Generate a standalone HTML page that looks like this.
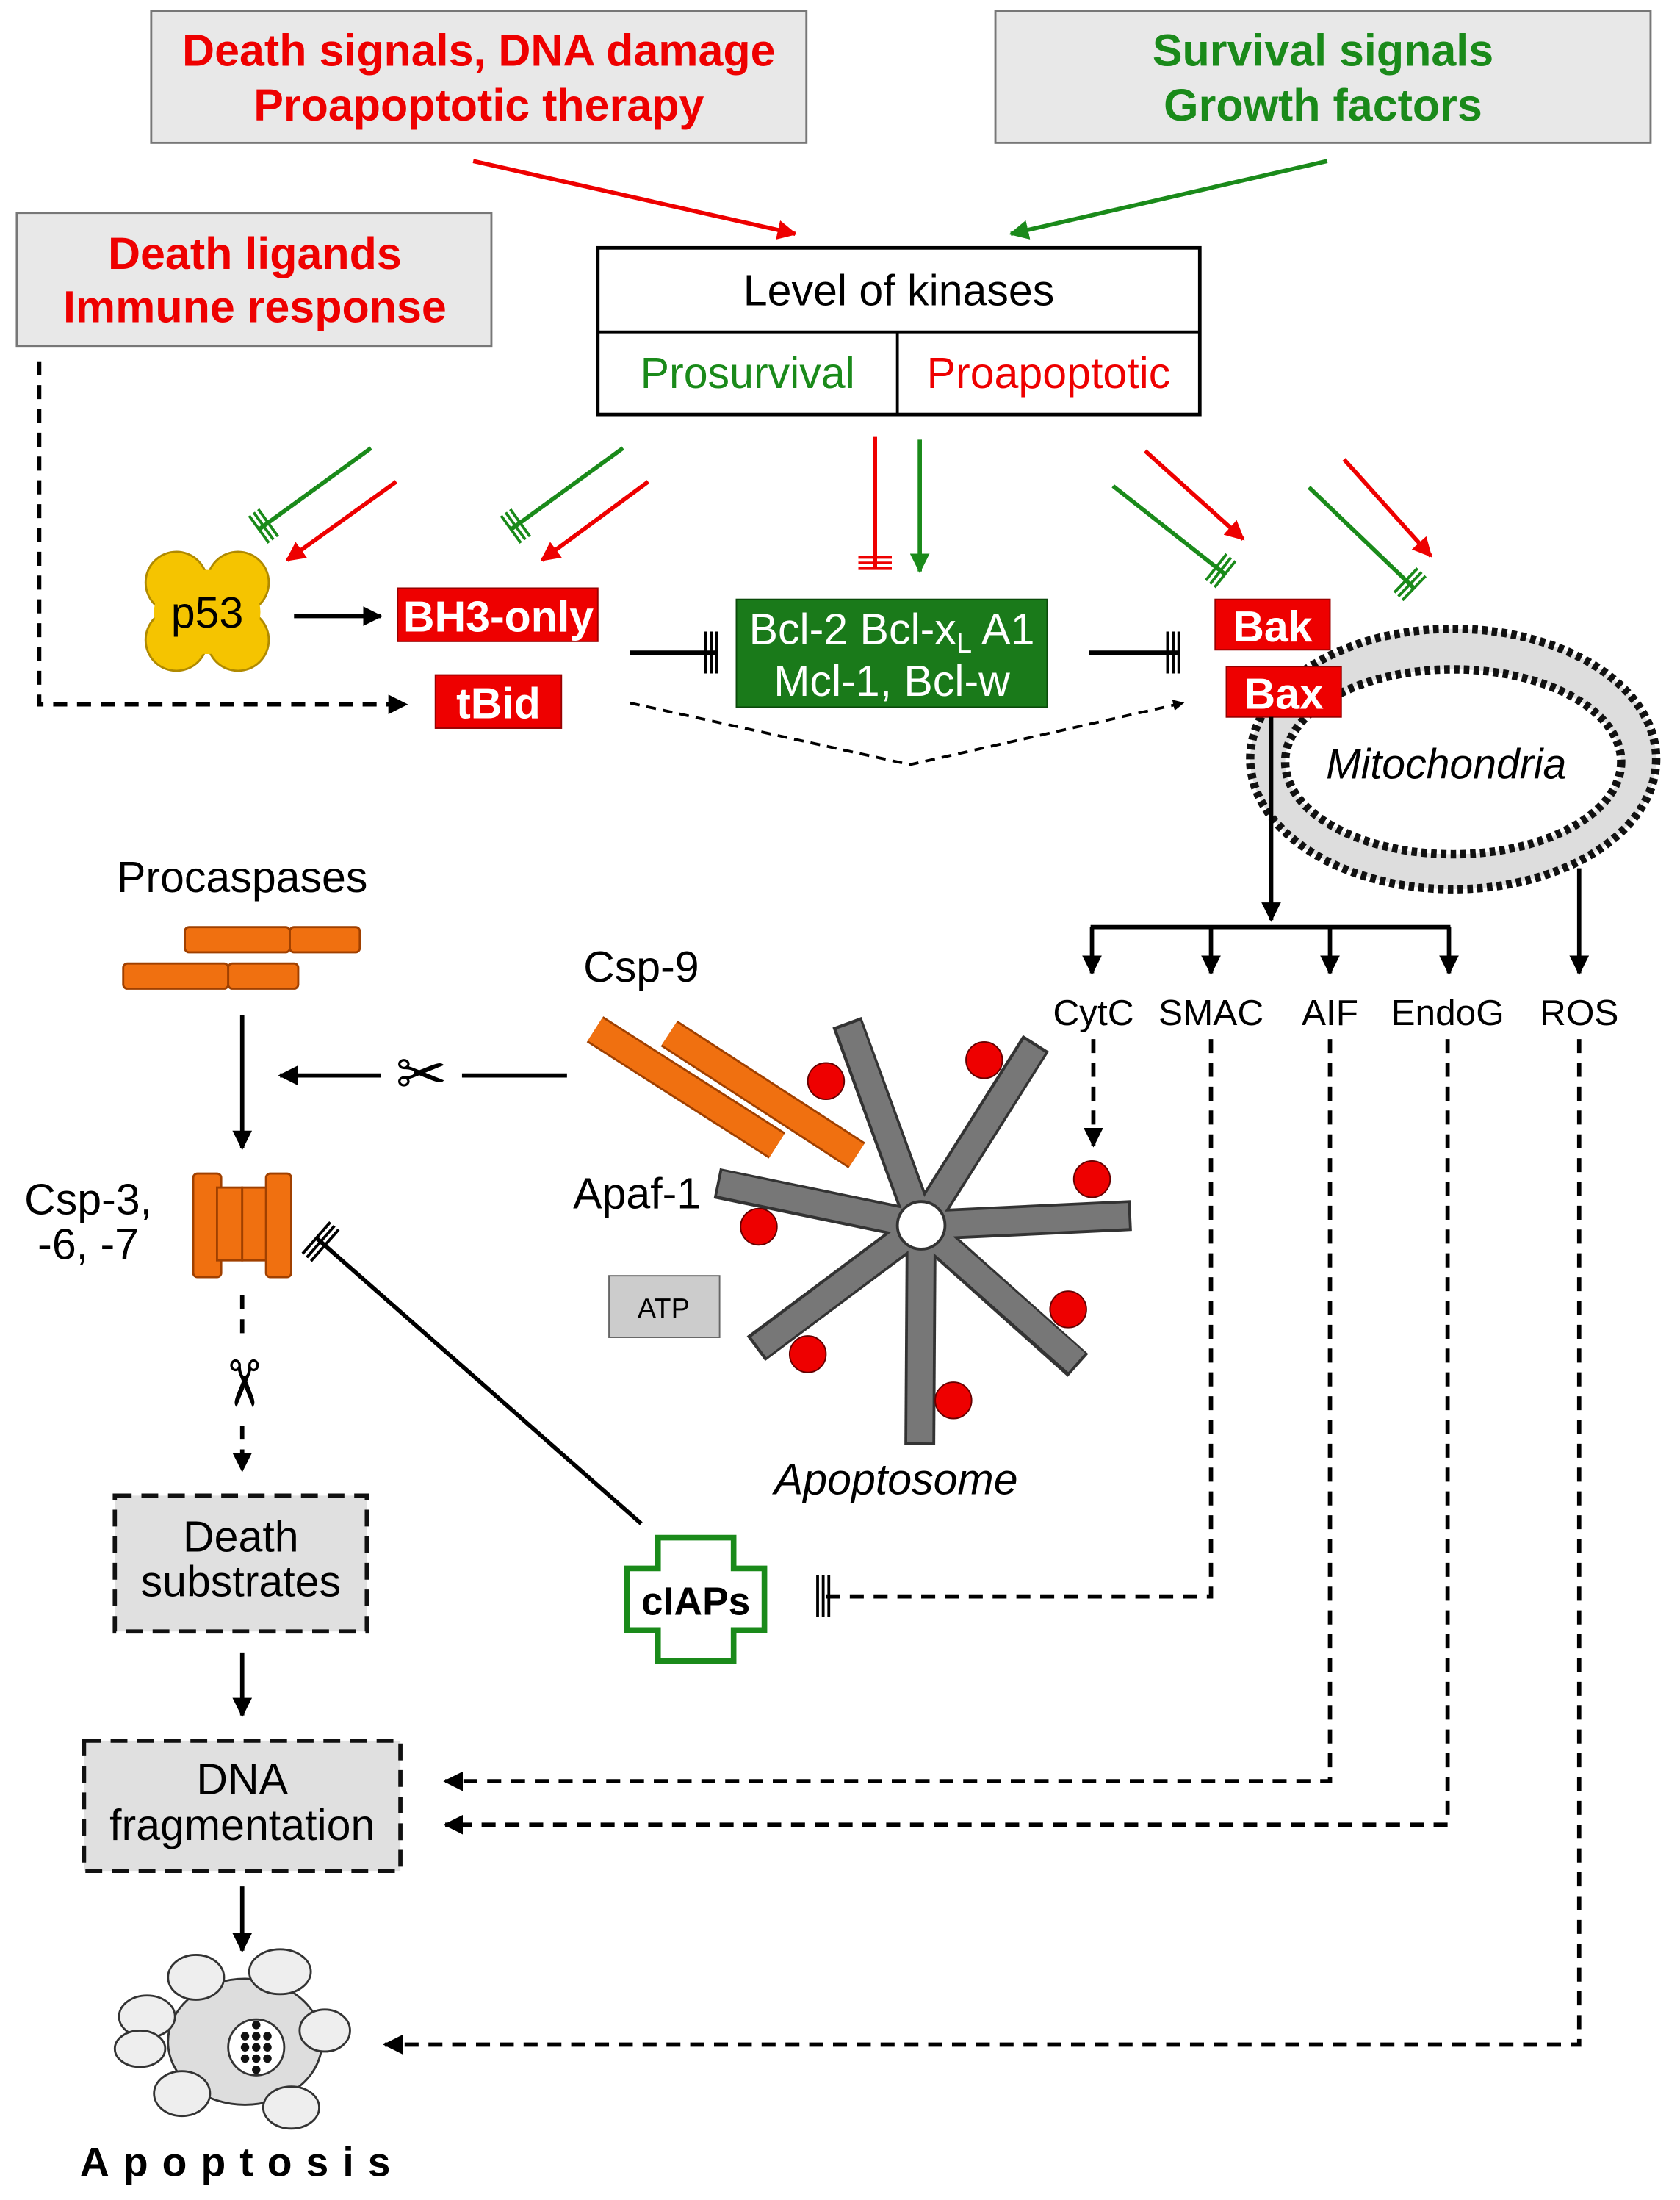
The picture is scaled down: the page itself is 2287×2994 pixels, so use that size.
<!DOCTYPE html>
<html><head><meta charset="utf-8"><style>html,body{margin:0;padding:0;background:#fff}svg{display:block}text{font-family:"Liberation Sans",Arial,sans-serif}</style></head><body>
<svg width="2287" height="2994" viewBox="0 0 1200 1571" xmlns="http://www.w3.org/2000/svg">
<defs>
<marker id="ak" markerWidth="8" markerHeight="8" refX="7" refY="4" orient="auto" markerUnits="userSpaceOnUse"><path d="M0,0 L8,4 L0,8z" fill="#000"/></marker>
<marker id="ab" viewBox="0 0 10 10" markerWidth="14" markerHeight="14" refX="9" refY="5" orient="auto" markerUnits="userSpaceOnUse"><path d="M0,0 L10,5 L0,10z" fill="#000"/></marker>
<marker id="ar" viewBox="0 0 10 10" markerWidth="14" markerHeight="14" refX="9" refY="5" orient="auto" markerUnits="userSpaceOnUse"><path d="M0,0 L10,5 L0,10z" fill="#e00"/></marker>
<marker id="ag" viewBox="0 0 10 10" markerWidth="14" markerHeight="14" refX="9" refY="5" orient="auto" markerUnits="userSpaceOnUse"><path d="M0,0 L10,5 L0,10z" fill="#1a8a1a"/></marker>
<marker id="tg" viewBox="0 0 12 24" markerWidth="12" markerHeight="24" refX="10" refY="12" orient="auto" markerUnits="userSpaceOnUse"><path d="M2,0 V24 M6,0 V24 M10,0 V24" stroke="#1a8a1a" stroke-width="2"/></marker>
<marker id="tr" viewBox="0 0 12 24" markerWidth="12" markerHeight="24" refX="10" refY="12" orient="auto" markerUnits="userSpaceOnUse"><path d="M2,0 V24 M6,0 V24 M10,0 V24" stroke="#e00" stroke-width="2"/></marker>
<marker id="tk" viewBox="0 0 12 30" markerWidth="12" markerHeight="30" refX="10" refY="15" orient="auto" markerUnits="userSpaceOnUse"><path d="M2,0 V30 M6,0 V30 M10,0 V30" stroke="#000" stroke-width="2"/></marker>
</defs>
<rect x="108" y="8" width="468" height="94" fill="#e8e8e8" stroke="#777" stroke-width="1.5"/>
<text x="342" y="47" font-size="32" font-weight="bold" fill="#e00" text-anchor="middle">Death signals, DNA damage</text>
<text x="342" y="86" font-size="32" font-weight="bold" fill="#e00" text-anchor="middle">Proapoptotic therapy</text>
<rect x="711" y="8" width="468" height="94" fill="#e8e8e8" stroke="#777" stroke-width="1.5"/>
<text x="945" y="47" font-size="32" font-weight="bold" fill="#1a8a1a" text-anchor="middle">Survival signals</text>
<text x="945" y="86" font-size="32" font-weight="bold" fill="#1a8a1a" text-anchor="middle">Growth factors</text>
<rect x="12" y="152" width="339" height="95" fill="#e8e8e8" stroke="#777" stroke-width="1.5"/>
<text x="182" y="192" font-size="32" font-weight="bold" fill="#e00" text-anchor="middle">Death ligands</text>
<text x="182" y="230" font-size="32" font-weight="bold" fill="#e00" text-anchor="middle">Immune response</text>
<line x1="338" y1="115" x2="568" y2="167" stroke="#e00" stroke-width="3" marker-end="url(#ar)"/>
<line x1="948" y1="115" x2="722" y2="167" stroke="#1a8a1a" stroke-width="3" marker-end="url(#ag)"/>
<rect x="427" y="177" width="430" height="119" fill="#fff" stroke="#000" stroke-width="2.5"/>
<line x1="427" y1="237" x2="857" y2="237" stroke="#000" stroke-width="2"/>
<line x1="641" y1="237" x2="641" y2="296" stroke="#000" stroke-width="2"/>
<text x="642" y="218" font-size="31" text-anchor="middle">Level of kinases</text>
<text x="534" y="277" font-size="31" fill="#1a8a1a" text-anchor="middle">Prosurvival</text>
<text x="749" y="277" font-size="31" fill="#e00" text-anchor="middle">Proapoptotic</text>
<line x1="265" y1="320" x2="185" y2="378" stroke="#1a8a1a" stroke-width="3" marker-end="url(#tg)"/>
<line x1="283" y1="344" x2="205" y2="400" stroke="#e00" stroke-width="3" marker-end="url(#ar)"/>
<line x1="445" y1="320" x2="365" y2="378" stroke="#1a8a1a" stroke-width="3" marker-end="url(#tg)"/>
<line x1="463" y1="344" x2="387" y2="400" stroke="#e00" stroke-width="3" marker-end="url(#ar)"/>
<line x1="625" y1="312" x2="625" y2="406" stroke="#e00" stroke-width="3" marker-end="url(#tr)"/>
<line x1="657" y1="314" x2="657" y2="408" stroke="#1a8a1a" stroke-width="3" marker-end="url(#ag)"/>
<line x1="795" y1="347" x2="875" y2="410" stroke="#1a8a1a" stroke-width="3" marker-end="url(#tg)"/>
<line x1="818" y1="322" x2="888" y2="385" stroke="#e00" stroke-width="3" marker-end="url(#ar)"/>
<line x1="935" y1="348" x2="1010" y2="420" stroke="#1a8a1a" stroke-width="3" marker-end="url(#tg)"/>
<line x1="960" y1="328" x2="1022" y2="397" stroke="#e00" stroke-width="3" marker-end="url(#ar)"/>
<g fill="#f5c400" stroke="#b08a00" stroke-width="1.5">
<circle cx="126" cy="416" r="22"/><circle cx="170" cy="416" r="22"/><circle cx="126" cy="457" r="22"/><circle cx="170" cy="457" r="22"/>
<ellipse cx="148" cy="437" rx="38" ry="30" stroke="none"/></g>
<text x="148" y="448" font-size="31" text-anchor="middle">p53</text>
<line x1="210" y1="440" x2="272" y2="440" stroke="#000" stroke-width="3" marker-end="url(#ab)"/>
<rect x="284" y="420" width="143" height="38" fill="#e00" stroke="#900"/>
<text x="356" y="451" font-size="31" font-weight="bold" fill="#fff" text-anchor="middle">BH3-only</text>
<rect x="311" y="482" width="90" height="38" fill="#e00" stroke="#900"/>
<text x="356" y="513" font-size="31" font-weight="bold" fill="#fff" text-anchor="middle">tBid</text>
<polyline points="28,258 28,503 290,503" fill="none" stroke="#000" stroke-width="3" stroke-dasharray="10,7" marker-end="url(#ab)"/>
<line x1="450" y1="466" x2="512" y2="466" stroke="#000" stroke-width="3" marker-end="url(#tk)"/>
<rect x="526" y="428" width="222" height="77" fill="#1a7a1a" stroke="#0a4a0a"/>
<text x="637" y="460" font-size="31" fill="#fff" text-anchor="middle">Bcl-2 Bcl-x<tspan font-size="20" dy="6">L</tspan><tspan dy="-6"> A1</tspan></text>
<text x="637" y="497" font-size="31" fill="#fff" text-anchor="middle">Mcl-1, Bcl-w</text>
<line x1="778" y1="466" x2="842" y2="466" stroke="#000" stroke-width="3" marker-end="url(#tk)"/>
<polyline points="450,502 650,546 845,502" fill="none" stroke="#000" stroke-width="2" stroke-dasharray="7,5" marker-end="url(#ak)"/>
<ellipse cx="1038" cy="542" rx="145" ry="93" fill="#ddd"/>
<ellipse cx="1038" cy="542" rx="145" ry="93" fill="none" stroke="#111" stroke-width="6" stroke-dasharray="4,3"/>
<ellipse cx="1038" cy="544" rx="120" ry="66" fill="#fff" stroke="#111" stroke-width="6" stroke-dasharray="4,3"/>
<text x="1033" y="556" font-size="30" font-style="italic" text-anchor="middle">Mitochondria</text>
<rect x="868" y="428" width="82" height="36" fill="#e00" stroke="#900"/>
<text x="909" y="458" font-size="31" font-weight="bold" fill="#fff" text-anchor="middle">Bak</text>
<rect x="876" y="476" width="82" height="36" fill="#e00" stroke="#900"/>
<text x="917" y="506" font-size="31" font-weight="bold" fill="#fff" text-anchor="middle">Bax</text>
<line x1="908" y1="512" x2="908" y2="657" stroke="#000" stroke-width="3" marker-end="url(#ab)"/>
<line x1="779" y1="662" x2="1036" y2="662" stroke="#000" stroke-width="3"/>
<g stroke="#000" stroke-width="3">
<line x1="780" y1="662" x2="780" y2="695" marker-end="url(#ab)"/><line x1="865" y1="662" x2="865" y2="695" marker-end="url(#ab)"/>
<line x1="950" y1="662" x2="950" y2="695" marker-end="url(#ab)"/><line x1="1035" y1="662" x2="1035" y2="695" marker-end="url(#ab)"/>
<line x1="1128" y1="620" x2="1128" y2="695" marker-end="url(#ab)"/></g>
<g font-size="26" text-anchor="middle"><text x="781" y="732">CytC</text><text x="865" y="732">SMAC</text><text x="950" y="732">AIF</text><text x="1034" y="732">EndoG</text><text x="1128" y="732">ROS</text></g>
<g fill="none" stroke="#000" stroke-width="3" stroke-dasharray="10,7">
<line x1="781" y1="742" x2="781" y2="818" marker-end="url(#ab)"/>
<polyline points="865,742 865,1140 584,1140" marker-end="url(#tk)"/>
<polyline points="950,742 950,1272 318,1272" marker-end="url(#ab)"/>
<polyline points="1034,742 1034,1303 318,1303" marker-end="url(#ab)"/>
<polyline points="1128,742 1128,1460 275,1460" marker-end="url(#ab)"/>
</g>
<text x="173" y="637" font-size="31" text-anchor="middle">Procaspases</text>
<g fill="#f07010" stroke="#a04000" stroke-width="1.5">
<rect x="132" y="662" width="75" height="18" rx="3"/><rect x="207" y="662" width="50" height="18" rx="3"/>
<rect x="88" y="688" width="75" height="18" rx="3"/><rect x="163" y="688" width="50" height="18" rx="3"/></g>
<line x1="173" y1="725" x2="173" y2="820" stroke="#000" stroke-width="3" marker-end="url(#ab)"/>
<line x1="405" y1="768" x2="200" y2="768" stroke="#000" stroke-width="3" marker-end="url(#ab)"/>
<rect x="272" y="750" width="58" height="36" fill="#fff"/>
<text x="301" y="782" font-size="44" text-anchor="middle">✂</text>
<text x="63" y="867" font-size="31" text-anchor="middle">Csp-3,</text>
<text x="63" y="899" font-size="31" text-anchor="middle">-6, -7</text>
<g fill="#f07010" stroke="#a04000" stroke-width="1.5">
<rect x="138" y="838" width="20" height="74" rx="3"/><rect x="155" y="848" width="18" height="52"/><rect x="173" y="848" width="18" height="52"/><rect x="190" y="838" width="18" height="74" rx="3"/></g>
<line x1="173" y1="925" x2="173" y2="955" stroke="#000" stroke-width="3" stroke-dasharray="10,7"/>
<text x="173" y="1003" font-size="46" text-anchor="middle" transform="rotate(90 173 988)">✂</text>
<line x1="173" y1="1018" x2="173" y2="1050" stroke="#000" stroke-width="3" stroke-dasharray="10,7" marker-end="url(#ab)"/>
<rect x="82" y="1068" width="180" height="97" fill="#e0e0e0" stroke="#111" stroke-width="3" stroke-dasharray="12,7"/>
<text x="172" y="1108" font-size="31" text-anchor="middle">Death</text>
<text x="172" y="1140" font-size="31" text-anchor="middle">substrates</text>
<line x1="173" y1="1180" x2="173" y2="1225" stroke="#000" stroke-width="3" marker-end="url(#ab)"/>
<rect x="60" y="1243" width="226" height="93" fill="#e0e0e0" stroke="#111" stroke-width="3" stroke-dasharray="12,7"/>
<text x="173" y="1281" font-size="31" text-anchor="middle">DNA</text>
<text x="173" y="1314" font-size="31" text-anchor="middle">fragmentation</text>
<line x1="173" y1="1347" x2="173" y2="1393" stroke="#000" stroke-width="3" marker-end="url(#ab)"/>
<g fill="#eee" stroke="#333" stroke-width="1.5">
<ellipse cx="175" cy="1458" rx="55" ry="45" fill="#ddd"/>
<ellipse cx="140" cy="1412" rx="20" ry="16"/><ellipse cx="200" cy="1408" rx="22" ry="16"/><ellipse cx="232" cy="1450" rx="18" ry="15"/>
<ellipse cx="105" cy="1440" rx="20" ry="15"/><ellipse cx="100" cy="1463" rx="18" ry="13"/><ellipse cx="130" cy="1495" rx="20" ry="16"/><ellipse cx="208" cy="1505" rx="20" ry="15"/>
<circle cx="183" cy="1462" r="20" fill="#fff"/></g>
<g fill="#111"><circle cx="175" cy="1454" r="3"/><circle cx="183" cy="1454" r="3"/><circle cx="191" cy="1454" r="3"/><circle cx="175" cy="1462" r="3"/><circle cx="183" cy="1462" r="3"/><circle cx="191" cy="1462" r="3"/><circle cx="175" cy="1470" r="3"/><circle cx="183" cy="1470" r="3"/><circle cx="191" cy="1470" r="3"/><circle cx="183" cy="1446" r="3"/><circle cx="183" cy="1478" r="3"/></g>
<text x="173" y="1554" font-size="29" font-weight="bold" letter-spacing="10" text-anchor="middle">Apoptosis</text>
<line x1="458" y1="1088" x2="226" y2="884" stroke="#000" stroke-width="3" marker-end="url(#tk)"/>
<path d="M470,1098 h54 v22 h22 v44 h-22 v22 h-54 v-22 h-22 v-44 h22z" fill="#fff" stroke="#1a8a1a" stroke-width="4"/>
<text x="497" y="1153" font-size="28" font-weight="bold" text-anchor="middle">cIAPs</text>
<text x="458" y="701" font-size="31" text-anchor="middle">Csp-9</text>
<g stroke-linecap="butt">
<line x1="425" y1="735" x2="555" y2="818" stroke="#a04000" stroke-width="22"/><line x1="425" y1="735" x2="555" y2="818" stroke="#f07010" stroke-width="19"/>
<line x1="478" y1="738" x2="612" y2="825" stroke="#a04000" stroke-width="22"/><line x1="478" y1="738" x2="612" y2="825" stroke="#f07010" stroke-width="19"/>
</g>
<g stroke-linecap="butt">
<g stroke="#333" stroke-width="22"><line x1="658" y1="875" x2="605" y2="730"/><line x1="658" y1="875" x2="740" y2="745"/><line x1="658" y1="875" x2="808" y2="868"/><line x1="658" y1="875" x2="770" y2="975"/><line x1="658" y1="875" x2="657" y2="1032"/><line x1="658" y1="875" x2="540" y2="963"/><line x1="658" y1="875" x2="512" y2="845"/></g>
<g stroke="#777" stroke-width="18"><line x1="658" y1="875" x2="606" y2="732"/><line x1="658" y1="875" x2="739" y2="747"/><line x1="658" y1="875" x2="806" y2="868"/><line x1="658" y1="875" x2="769" y2="973"/><line x1="658" y1="875" x2="657" y2="1030"/><line x1="658" y1="875" x2="542" y2="962"/><line x1="658" y1="875" x2="514" y2="845"/></g>
</g>
<circle cx="658" cy="875" r="17" fill="#fff" stroke="#333" stroke-width="2"/>
<g fill="#e00" stroke="#600" stroke-width="1"><circle cx="590" cy="772" r="13"/><circle cx="703" cy="757" r="13"/><circle cx="780" cy="842" r="13"/><circle cx="763" cy="935" r="13"/><circle cx="681" cy="1000" r="13"/><circle cx="577" cy="967" r="13"/><circle cx="542" cy="876" r="13"/></g>
<text x="455" y="863" font-size="31" text-anchor="middle">Apaf-1</text>
<rect x="435" y="911" width="79" height="44" fill="#ccc" stroke="#666"/>
<text x="474" y="941" font-size="20" text-anchor="middle">ATP</text>
<text x="640" y="1067" font-size="31" font-style="italic" text-anchor="middle">Apoptosome</text>
</svg>
</body></html>
